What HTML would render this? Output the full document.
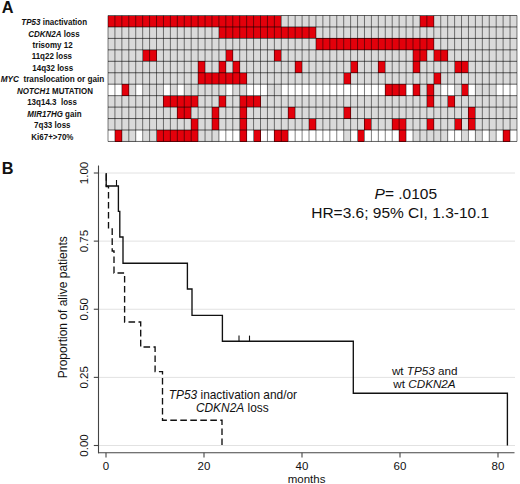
<!DOCTYPE html>
<html><head><meta charset="utf-8"><title>Figure</title><style>
html,body{margin:0;padding:0;background:#fff;}
svg{display:block;}
text{font-family:"Liberation Sans",sans-serif;fill:#111;}
</style></head><body>
<svg width="520" height="484" viewBox="0 0 520 484">
<rect x="0" y="0" width="520" height="484" fill="#fff"/>
<text x="1.7" y="13.3" font-size="16.3" font-weight="bold">A</text>
<text x="1.8" y="174.4" font-size="16.3" font-weight="bold">B</text>
<g shape-rendering="crispEdges">
<rect x="108.00" y="15.50" width="6.982" height="11.500" fill="#e3000b"/><rect x="114.93" y="15.50" width="6.982" height="11.500" fill="#e3000b"/><rect x="121.86" y="15.50" width="6.982" height="11.500" fill="#e3000b"/><rect x="128.80" y="15.50" width="6.982" height="11.500" fill="#e3000b"/><rect x="135.73" y="15.50" width="6.982" height="11.500" fill="#e3000b"/><rect x="142.66" y="15.50" width="6.982" height="11.500" fill="#e3000b"/><rect x="149.59" y="15.50" width="6.982" height="11.500" fill="#e3000b"/><rect x="156.52" y="15.50" width="6.982" height="11.500" fill="#e3000b"/><rect x="163.46" y="15.50" width="6.982" height="11.500" fill="#e3000b"/><rect x="170.39" y="15.50" width="6.982" height="11.500" fill="#e3000b"/><rect x="177.32" y="15.50" width="6.982" height="11.500" fill="#e3000b"/><rect x="184.25" y="15.50" width="6.982" height="11.500" fill="#e3000b"/><rect x="191.18" y="15.50" width="6.982" height="11.500" fill="#e3000b"/><rect x="198.12" y="15.50" width="6.982" height="11.500" fill="#e3000b"/><rect x="205.05" y="15.50" width="6.982" height="11.500" fill="#e3000b"/><rect x="211.98" y="15.50" width="6.982" height="11.500" fill="#e3000b"/><rect x="218.91" y="15.50" width="6.982" height="11.500" fill="#e3000b"/><rect x="225.84" y="15.50" width="6.982" height="11.500" fill="#e3000b"/><rect x="232.78" y="15.50" width="6.982" height="11.500" fill="#e3000b"/><rect x="239.71" y="15.50" width="6.982" height="11.500" fill="#e3000b"/><rect x="246.64" y="15.50" width="6.982" height="11.500" fill="#e3000b"/><rect x="253.57" y="15.50" width="6.982" height="11.500" fill="#e3000b"/><rect x="260.50" y="15.50" width="6.982" height="11.500" fill="#e3000b"/><rect x="267.44" y="15.50" width="6.982" height="11.500" fill="#e3000b"/><rect x="274.37" y="15.50" width="6.982" height="11.500" fill="#e3000b"/><rect x="281.30" y="15.50" width="6.982" height="11.500" fill="#dadada"/><rect x="288.23" y="15.50" width="6.982" height="11.500" fill="#dadada"/><rect x="295.16" y="15.50" width="6.982" height="11.500" fill="#dadada"/><rect x="302.10" y="15.50" width="6.982" height="11.500" fill="#dadada"/><rect x="309.03" y="15.50" width="6.982" height="11.500" fill="#dadada"/><rect x="315.96" y="15.50" width="6.982" height="11.500" fill="#dadada"/><rect x="322.89" y="15.50" width="6.982" height="11.500" fill="#dadada"/><rect x="329.82" y="15.50" width="6.982" height="11.500" fill="#dadada"/><rect x="336.76" y="15.50" width="6.982" height="11.500" fill="#dadada"/><rect x="343.69" y="15.50" width="6.982" height="11.500" fill="#dadada"/><rect x="350.62" y="15.50" width="6.982" height="11.500" fill="#dadada"/><rect x="357.55" y="15.50" width="6.982" height="11.500" fill="#dadada"/><rect x="364.48" y="15.50" width="6.982" height="11.500" fill="#dadada"/><rect x="371.42" y="15.50" width="6.982" height="11.500" fill="#dadada"/><rect x="378.35" y="15.50" width="6.982" height="11.500" fill="#dadada"/><rect x="385.28" y="15.50" width="6.982" height="11.500" fill="#dadada"/><rect x="392.21" y="15.50" width="6.982" height="11.500" fill="#dadada"/><rect x="399.14" y="15.50" width="6.982" height="11.500" fill="#dadada"/><rect x="406.08" y="15.50" width="6.982" height="11.500" fill="#dadada"/><rect x="413.01" y="15.50" width="6.982" height="11.500" fill="#dadada"/><rect x="419.94" y="15.50" width="6.982" height="11.500" fill="#e3000b"/><rect x="426.87" y="15.50" width="6.982" height="11.500" fill="#e3000b"/><rect x="433.80" y="15.50" width="6.982" height="11.500" fill="#dadada"/><rect x="440.74" y="15.50" width="6.982" height="11.500" fill="#dadada"/><rect x="447.67" y="15.50" width="6.982" height="11.500" fill="#dadada"/><rect x="454.60" y="15.50" width="6.982" height="11.500" fill="#dadada"/><rect x="461.53" y="15.50" width="6.982" height="11.500" fill="#dadada"/><rect x="468.46" y="15.50" width="6.982" height="11.500" fill="#dadada"/><rect x="475.40" y="15.50" width="6.982" height="11.500" fill="#dadada"/><rect x="482.33" y="15.50" width="6.982" height="11.500" fill="#dadada"/><rect x="489.26" y="15.50" width="6.982" height="11.500" fill="#dadada"/><rect x="496.19" y="15.50" width="6.982" height="11.500" fill="#dadada"/><rect x="503.12" y="15.50" width="6.982" height="11.500" fill="#dadada"/><rect x="510.06" y="15.50" width="6.982" height="11.500" fill="#dadada"/>
<rect x="108.00" y="26.95" width="6.982" height="11.500" fill="#dadada"/><rect x="114.93" y="26.95" width="6.982" height="11.500" fill="#dadada"/><rect x="121.86" y="26.95" width="6.982" height="11.500" fill="#dadada"/><rect x="128.80" y="26.95" width="6.982" height="11.500" fill="#dadada"/><rect x="135.73" y="26.95" width="6.982" height="11.500" fill="#dadada"/><rect x="142.66" y="26.95" width="6.982" height="11.500" fill="#dadada"/><rect x="149.59" y="26.95" width="6.982" height="11.500" fill="#dadada"/><rect x="156.52" y="26.95" width="6.982" height="11.500" fill="#dadada"/><rect x="163.46" y="26.95" width="6.982" height="11.500" fill="#dadada"/><rect x="170.39" y="26.95" width="6.982" height="11.500" fill="#dadada"/><rect x="177.32" y="26.95" width="6.982" height="11.500" fill="#dadada"/><rect x="184.25" y="26.95" width="6.982" height="11.500" fill="#dadada"/><rect x="191.18" y="26.95" width="6.982" height="11.500" fill="#dadada"/><rect x="198.12" y="26.95" width="6.982" height="11.500" fill="#dadada"/><rect x="205.05" y="26.95" width="6.982" height="11.500" fill="#dadada"/><rect x="211.98" y="26.95" width="6.982" height="11.500" fill="#dadada"/><rect x="218.91" y="26.95" width="6.982" height="11.500" fill="#e3000b"/><rect x="225.84" y="26.95" width="6.982" height="11.500" fill="#e3000b"/><rect x="232.78" y="26.95" width="6.982" height="11.500" fill="#e3000b"/><rect x="239.71" y="26.95" width="6.982" height="11.500" fill="#e3000b"/><rect x="246.64" y="26.95" width="6.982" height="11.500" fill="#e3000b"/><rect x="253.57" y="26.95" width="6.982" height="11.500" fill="#e3000b"/><rect x="260.50" y="26.95" width="6.982" height="11.500" fill="#e3000b"/><rect x="267.44" y="26.95" width="6.982" height="11.500" fill="#e3000b"/><rect x="274.37" y="26.95" width="6.982" height="11.500" fill="#e3000b"/><rect x="281.30" y="26.95" width="6.982" height="11.500" fill="#e3000b"/><rect x="288.23" y="26.95" width="6.982" height="11.500" fill="#e3000b"/><rect x="295.16" y="26.95" width="6.982" height="11.500" fill="#e3000b"/><rect x="302.10" y="26.95" width="6.982" height="11.500" fill="#e3000b"/><rect x="309.03" y="26.95" width="6.982" height="11.500" fill="#e3000b"/><rect x="315.96" y="26.95" width="6.982" height="11.500" fill="#dadada"/><rect x="322.89" y="26.95" width="6.982" height="11.500" fill="#dadada"/><rect x="329.82" y="26.95" width="6.982" height="11.500" fill="#dadada"/><rect x="336.76" y="26.95" width="6.982" height="11.500" fill="#dadada"/><rect x="343.69" y="26.95" width="6.982" height="11.500" fill="#dadada"/><rect x="350.62" y="26.95" width="6.982" height="11.500" fill="#dadada"/><rect x="357.55" y="26.95" width="6.982" height="11.500" fill="#dadada"/><rect x="364.48" y="26.95" width="6.982" height="11.500" fill="#dadada"/><rect x="371.42" y="26.95" width="6.982" height="11.500" fill="#dadada"/><rect x="378.35" y="26.95" width="6.982" height="11.500" fill="#dadada"/><rect x="385.28" y="26.95" width="6.982" height="11.500" fill="#dadada"/><rect x="392.21" y="26.95" width="6.982" height="11.500" fill="#dadada"/><rect x="399.14" y="26.95" width="6.982" height="11.500" fill="#dadada"/><rect x="406.08" y="26.95" width="6.982" height="11.500" fill="#dadada"/><rect x="413.01" y="26.95" width="6.982" height="11.500" fill="#dadada"/><rect x="419.94" y="26.95" width="6.982" height="11.500" fill="#dadada"/><rect x="426.87" y="26.95" width="6.982" height="11.500" fill="#dadada"/><rect x="433.80" y="26.95" width="6.982" height="11.500" fill="#dadada"/><rect x="440.74" y="26.95" width="6.982" height="11.500" fill="#dadada"/><rect x="447.67" y="26.95" width="6.982" height="11.500" fill="#dadada"/><rect x="454.60" y="26.95" width="6.982" height="11.500" fill="#dadada"/><rect x="461.53" y="26.95" width="6.982" height="11.500" fill="#dadada"/><rect x="468.46" y="26.95" width="6.982" height="11.500" fill="#dadada"/><rect x="475.40" y="26.95" width="6.982" height="11.500" fill="#dadada"/><rect x="482.33" y="26.95" width="6.982" height="11.500" fill="#dadada"/><rect x="489.26" y="26.95" width="6.982" height="11.500" fill="#dadada"/><rect x="496.19" y="26.95" width="6.982" height="11.500" fill="#dadada"/><rect x="503.12" y="26.95" width="6.982" height="11.500" fill="#dadada"/><rect x="510.06" y="26.95" width="6.982" height="11.500" fill="#dadada"/>
<rect x="108.00" y="38.40" width="6.982" height="11.500" fill="#dadada"/><rect x="114.93" y="38.40" width="6.982" height="11.500" fill="#dadada"/><rect x="121.86" y="38.40" width="6.982" height="11.500" fill="#dadada"/><rect x="128.80" y="38.40" width="6.982" height="11.500" fill="#dadada"/><rect x="135.73" y="38.40" width="6.982" height="11.500" fill="#dadada"/><rect x="142.66" y="38.40" width="6.982" height="11.500" fill="#dadada"/><rect x="149.59" y="38.40" width="6.982" height="11.500" fill="#dadada"/><rect x="156.52" y="38.40" width="6.982" height="11.500" fill="#dadada"/><rect x="163.46" y="38.40" width="6.982" height="11.500" fill="#dadada"/><rect x="170.39" y="38.40" width="6.982" height="11.500" fill="#dadada"/><rect x="177.32" y="38.40" width="6.982" height="11.500" fill="#dadada"/><rect x="184.25" y="38.40" width="6.982" height="11.500" fill="#dadada"/><rect x="191.18" y="38.40" width="6.982" height="11.500" fill="#dadada"/><rect x="198.12" y="38.40" width="6.982" height="11.500" fill="#dadada"/><rect x="205.05" y="38.40" width="6.982" height="11.500" fill="#dadada"/><rect x="211.98" y="38.40" width="6.982" height="11.500" fill="#dadada"/><rect x="218.91" y="38.40" width="6.982" height="11.500" fill="#dadada"/><rect x="225.84" y="38.40" width="6.982" height="11.500" fill="#dadada"/><rect x="232.78" y="38.40" width="6.982" height="11.500" fill="#dadada"/><rect x="239.71" y="38.40" width="6.982" height="11.500" fill="#dadada"/><rect x="246.64" y="38.40" width="6.982" height="11.500" fill="#dadada"/><rect x="253.57" y="38.40" width="6.982" height="11.500" fill="#dadada"/><rect x="260.50" y="38.40" width="6.982" height="11.500" fill="#dadada"/><rect x="267.44" y="38.40" width="6.982" height="11.500" fill="#dadada"/><rect x="274.37" y="38.40" width="6.982" height="11.500" fill="#dadada"/><rect x="281.30" y="38.40" width="6.982" height="11.500" fill="#dadada"/><rect x="288.23" y="38.40" width="6.982" height="11.500" fill="#dadada"/><rect x="295.16" y="38.40" width="6.982" height="11.500" fill="#dadada"/><rect x="302.10" y="38.40" width="6.982" height="11.500" fill="#dadada"/><rect x="309.03" y="38.40" width="6.982" height="11.500" fill="#dadada"/><rect x="315.96" y="38.40" width="6.982" height="11.500" fill="#e3000b"/><rect x="322.89" y="38.40" width="6.982" height="11.500" fill="#e3000b"/><rect x="329.82" y="38.40" width="6.982" height="11.500" fill="#e3000b"/><rect x="336.76" y="38.40" width="6.982" height="11.500" fill="#e3000b"/><rect x="343.69" y="38.40" width="6.982" height="11.500" fill="#e3000b"/><rect x="350.62" y="38.40" width="6.982" height="11.500" fill="#e3000b"/><rect x="357.55" y="38.40" width="6.982" height="11.500" fill="#e3000b"/><rect x="364.48" y="38.40" width="6.982" height="11.500" fill="#e3000b"/><rect x="371.42" y="38.40" width="6.982" height="11.500" fill="#e3000b"/><rect x="378.35" y="38.40" width="6.982" height="11.500" fill="#e3000b"/><rect x="385.28" y="38.40" width="6.982" height="11.500" fill="#e3000b"/><rect x="392.21" y="38.40" width="6.982" height="11.500" fill="#e3000b"/><rect x="399.14" y="38.40" width="6.982" height="11.500" fill="#e3000b"/><rect x="406.08" y="38.40" width="6.982" height="11.500" fill="#e3000b"/><rect x="413.01" y="38.40" width="6.982" height="11.500" fill="#e3000b"/><rect x="419.94" y="38.40" width="6.982" height="11.500" fill="#e3000b"/><rect x="426.87" y="38.40" width="6.982" height="11.500" fill="#e3000b"/><rect x="433.80" y="38.40" width="6.982" height="11.500" fill="#dadada"/><rect x="440.74" y="38.40" width="6.982" height="11.500" fill="#dadada"/><rect x="447.67" y="38.40" width="6.982" height="11.500" fill="#dadada"/><rect x="454.60" y="38.40" width="6.982" height="11.500" fill="#dadada"/><rect x="461.53" y="38.40" width="6.982" height="11.500" fill="#dadada"/><rect x="468.46" y="38.40" width="6.982" height="11.500" fill="#dadada"/><rect x="475.40" y="38.40" width="6.982" height="11.500" fill="#dadada"/><rect x="482.33" y="38.40" width="6.982" height="11.500" fill="#dadada"/><rect x="489.26" y="38.40" width="6.982" height="11.500" fill="#dadada"/><rect x="496.19" y="38.40" width="6.982" height="11.500" fill="#dadada"/><rect x="503.12" y="38.40" width="6.982" height="11.500" fill="#dadada"/><rect x="510.06" y="38.40" width="6.982" height="11.500" fill="#dadada"/>
<rect x="108.00" y="49.85" width="6.982" height="11.500" fill="#dadada"/><rect x="114.93" y="49.85" width="6.982" height="11.500" fill="#dadada"/><rect x="121.86" y="49.85" width="6.982" height="11.500" fill="#dadada"/><rect x="128.80" y="49.85" width="6.982" height="11.500" fill="#dadada"/><rect x="135.73" y="49.85" width="6.982" height="11.500" fill="#dadada"/><rect x="142.66" y="49.85" width="6.982" height="11.500" fill="#e3000b"/><rect x="149.59" y="49.85" width="6.982" height="11.500" fill="#e3000b"/><rect x="156.52" y="49.85" width="6.982" height="11.500" fill="#dadada"/><rect x="163.46" y="49.85" width="6.982" height="11.500" fill="#dadada"/><rect x="170.39" y="49.85" width="6.982" height="11.500" fill="#dadada"/><rect x="177.32" y="49.85" width="6.982" height="11.500" fill="#dadada"/><rect x="184.25" y="49.85" width="6.982" height="11.500" fill="#dadada"/><rect x="191.18" y="49.85" width="6.982" height="11.500" fill="#dadada"/><rect x="198.12" y="49.85" width="6.982" height="11.500" fill="#dadada"/><rect x="205.05" y="49.85" width="6.982" height="11.500" fill="#dadada"/><rect x="211.98" y="49.85" width="6.982" height="11.500" fill="#dadada"/><rect x="218.91" y="49.85" width="6.982" height="11.500" fill="#dadada"/><rect x="225.84" y="49.85" width="6.982" height="11.500" fill="#e3000b"/><rect x="232.78" y="49.85" width="6.982" height="11.500" fill="#dadada"/><rect x="239.71" y="49.85" width="6.982" height="11.500" fill="#dadada"/><rect x="246.64" y="49.85" width="6.982" height="11.500" fill="#dadada"/><rect x="253.57" y="49.85" width="6.982" height="11.500" fill="#dadada"/><rect x="260.50" y="49.85" width="6.982" height="11.500" fill="#dadada"/><rect x="267.44" y="49.85" width="6.982" height="11.500" fill="#dadada"/><rect x="274.37" y="49.85" width="6.982" height="11.500" fill="#e3000b"/><rect x="281.30" y="49.85" width="6.982" height="11.500" fill="#dadada"/><rect x="288.23" y="49.85" width="6.982" height="11.500" fill="#dadada"/><rect x="295.16" y="49.85" width="6.982" height="11.500" fill="#dadada"/><rect x="302.10" y="49.85" width="6.982" height="11.500" fill="#dadada"/><rect x="309.03" y="49.85" width="6.982" height="11.500" fill="#dadada"/><rect x="315.96" y="49.85" width="6.982" height="11.500" fill="#dadada"/><rect x="322.89" y="49.85" width="6.982" height="11.500" fill="#dadada"/><rect x="329.82" y="49.85" width="6.982" height="11.500" fill="#dadada"/><rect x="336.76" y="49.85" width="6.982" height="11.500" fill="#dadada"/><rect x="343.69" y="49.85" width="6.982" height="11.500" fill="#dadada"/><rect x="350.62" y="49.85" width="6.982" height="11.500" fill="#dadada"/><rect x="357.55" y="49.85" width="6.982" height="11.500" fill="#dadada"/><rect x="364.48" y="49.85" width="6.982" height="11.500" fill="#dadada"/><rect x="371.42" y="49.85" width="6.982" height="11.500" fill="#dadada"/><rect x="378.35" y="49.85" width="6.982" height="11.500" fill="#dadada"/><rect x="385.28" y="49.85" width="6.982" height="11.500" fill="#dadada"/><rect x="392.21" y="49.85" width="6.982" height="11.500" fill="#dadada"/><rect x="399.14" y="49.85" width="6.982" height="11.500" fill="#dadada"/><rect x="406.08" y="49.85" width="6.982" height="11.500" fill="#dadada"/><rect x="413.01" y="49.85" width="6.982" height="11.500" fill="#e3000b"/><rect x="419.94" y="49.85" width="6.982" height="11.500" fill="#e3000b"/><rect x="426.87" y="49.85" width="6.982" height="11.500" fill="#dadada"/><rect x="433.80" y="49.85" width="6.982" height="11.500" fill="#e3000b"/><rect x="440.74" y="49.85" width="6.982" height="11.500" fill="#e3000b"/><rect x="447.67" y="49.85" width="6.982" height="11.500" fill="#dadada"/><rect x="454.60" y="49.85" width="6.982" height="11.500" fill="#dadada"/><rect x="461.53" y="49.85" width="6.982" height="11.500" fill="#dadada"/><rect x="468.46" y="49.85" width="6.982" height="11.500" fill="#dadada"/><rect x="475.40" y="49.85" width="6.982" height="11.500" fill="#dadada"/><rect x="482.33" y="49.85" width="6.982" height="11.500" fill="#dadada"/><rect x="489.26" y="49.85" width="6.982" height="11.500" fill="#dadada"/><rect x="496.19" y="49.85" width="6.982" height="11.500" fill="#dadada"/><rect x="503.12" y="49.85" width="6.982" height="11.500" fill="#dadada"/><rect x="510.06" y="49.85" width="6.982" height="11.500" fill="#dadada"/>
<rect x="108.00" y="61.30" width="6.982" height="11.500" fill="#dadada"/><rect x="114.93" y="61.30" width="6.982" height="11.500" fill="#dadada"/><rect x="121.86" y="61.30" width="6.982" height="11.500" fill="#dadada"/><rect x="128.80" y="61.30" width="6.982" height="11.500" fill="#dadada"/><rect x="135.73" y="61.30" width="6.982" height="11.500" fill="#dadada"/><rect x="142.66" y="61.30" width="6.982" height="11.500" fill="#dadada"/><rect x="149.59" y="61.30" width="6.982" height="11.500" fill="#dadada"/><rect x="156.52" y="61.30" width="6.982" height="11.500" fill="#dadada"/><rect x="163.46" y="61.30" width="6.982" height="11.500" fill="#dadada"/><rect x="170.39" y="61.30" width="6.982" height="11.500" fill="#dadada"/><rect x="177.32" y="61.30" width="6.982" height="11.500" fill="#dadada"/><rect x="184.25" y="61.30" width="6.982" height="11.500" fill="#dadada"/><rect x="191.18" y="61.30" width="6.982" height="11.500" fill="#dadada"/><rect x="198.12" y="61.30" width="6.982" height="11.500" fill="#e3000b"/><rect x="205.05" y="61.30" width="6.982" height="11.500" fill="#dadada"/><rect x="211.98" y="61.30" width="6.982" height="11.500" fill="#dadada"/><rect x="218.91" y="61.30" width="6.982" height="11.500" fill="#e3000b"/><rect x="225.84" y="61.30" width="6.982" height="11.500" fill="#dadada"/><rect x="232.78" y="61.30" width="6.982" height="11.500" fill="#e3000b"/><rect x="239.71" y="61.30" width="6.982" height="11.500" fill="#dadada"/><rect x="246.64" y="61.30" width="6.982" height="11.500" fill="#dadada"/><rect x="253.57" y="61.30" width="6.982" height="11.500" fill="#dadada"/><rect x="260.50" y="61.30" width="6.982" height="11.500" fill="#dadada"/><rect x="267.44" y="61.30" width="6.982" height="11.500" fill="#dadada"/><rect x="274.37" y="61.30" width="6.982" height="11.500" fill="#dadada"/><rect x="281.30" y="61.30" width="6.982" height="11.500" fill="#dadada"/><rect x="288.23" y="61.30" width="6.982" height="11.500" fill="#dadada"/><rect x="295.16" y="61.30" width="6.982" height="11.500" fill="#e3000b"/><rect x="302.10" y="61.30" width="6.982" height="11.500" fill="#dadada"/><rect x="309.03" y="61.30" width="6.982" height="11.500" fill="#dadada"/><rect x="315.96" y="61.30" width="6.982" height="11.500" fill="#dadada"/><rect x="322.89" y="61.30" width="6.982" height="11.500" fill="#dadada"/><rect x="329.82" y="61.30" width="6.982" height="11.500" fill="#dadada"/><rect x="336.76" y="61.30" width="6.982" height="11.500" fill="#dadada"/><rect x="343.69" y="61.30" width="6.982" height="11.500" fill="#dadada"/><rect x="350.62" y="61.30" width="6.982" height="11.500" fill="#e3000b"/><rect x="357.55" y="61.30" width="6.982" height="11.500" fill="#dadada"/><rect x="364.48" y="61.30" width="6.982" height="11.500" fill="#dadada"/><rect x="371.42" y="61.30" width="6.982" height="11.500" fill="#dadada"/><rect x="378.35" y="61.30" width="6.982" height="11.500" fill="#e3000b"/><rect x="385.28" y="61.30" width="6.982" height="11.500" fill="#dadada"/><rect x="392.21" y="61.30" width="6.982" height="11.500" fill="#dadada"/><rect x="399.14" y="61.30" width="6.982" height="11.500" fill="#dadada"/><rect x="406.08" y="61.30" width="6.982" height="11.500" fill="#dadada"/><rect x="413.01" y="61.30" width="6.982" height="11.500" fill="#e3000b"/><rect x="419.94" y="61.30" width="6.982" height="11.500" fill="#dadada"/><rect x="426.87" y="61.30" width="6.982" height="11.500" fill="#dadada"/><rect x="433.80" y="61.30" width="6.982" height="11.500" fill="#dadada"/><rect x="440.74" y="61.30" width="6.982" height="11.500" fill="#dadada"/><rect x="447.67" y="61.30" width="6.982" height="11.500" fill="#dadada"/><rect x="454.60" y="61.30" width="6.982" height="11.500" fill="#e3000b"/><rect x="461.53" y="61.30" width="6.982" height="11.500" fill="#e3000b"/><rect x="468.46" y="61.30" width="6.982" height="11.500" fill="#dadada"/><rect x="475.40" y="61.30" width="6.982" height="11.500" fill="#dadada"/><rect x="482.33" y="61.30" width="6.982" height="11.500" fill="#dadada"/><rect x="489.26" y="61.30" width="6.982" height="11.500" fill="#dadada"/><rect x="496.19" y="61.30" width="6.982" height="11.500" fill="#dadada"/><rect x="503.12" y="61.30" width="6.982" height="11.500" fill="#dadada"/><rect x="510.06" y="61.30" width="6.982" height="11.500" fill="#dadada"/>
<rect x="108.00" y="72.75" width="6.982" height="11.500" fill="#dadada"/><rect x="114.93" y="72.75" width="6.982" height="11.500" fill="#dadada"/><rect x="121.86" y="72.75" width="6.982" height="11.500" fill="#dadada"/><rect x="128.80" y="72.75" width="6.982" height="11.500" fill="#dadada"/><rect x="135.73" y="72.75" width="6.982" height="11.500" fill="#dadada"/><rect x="142.66" y="72.75" width="6.982" height="11.500" fill="#dadada"/><rect x="149.59" y="72.75" width="6.982" height="11.500" fill="#dadada"/><rect x="156.52" y="72.75" width="6.982" height="11.500" fill="#dadada"/><rect x="163.46" y="72.75" width="6.982" height="11.500" fill="#dadada"/><rect x="170.39" y="72.75" width="6.982" height="11.500" fill="#dadada"/><rect x="177.32" y="72.75" width="6.982" height="11.500" fill="#dadada"/><rect x="184.25" y="72.75" width="6.982" height="11.500" fill="#dadada"/><rect x="191.18" y="72.75" width="6.982" height="11.500" fill="#dadada"/><rect x="198.12" y="72.75" width="6.982" height="11.500" fill="#e3000b"/><rect x="205.05" y="72.75" width="6.982" height="11.500" fill="#e3000b"/><rect x="211.98" y="72.75" width="6.982" height="11.500" fill="#e3000b"/><rect x="218.91" y="72.75" width="6.982" height="11.500" fill="#e3000b"/><rect x="225.84" y="72.75" width="6.982" height="11.500" fill="#e3000b"/><rect x="232.78" y="72.75" width="6.982" height="11.500" fill="#e3000b"/><rect x="239.71" y="72.75" width="6.982" height="11.500" fill="#e3000b"/><rect x="246.64" y="72.75" width="6.982" height="11.500" fill="#dadada"/><rect x="253.57" y="72.75" width="6.982" height="11.500" fill="#dadada"/><rect x="260.50" y="72.75" width="6.982" height="11.500" fill="#dadada"/><rect x="267.44" y="72.75" width="6.982" height="11.500" fill="#dadada"/><rect x="274.37" y="72.75" width="6.982" height="11.500" fill="#dadada"/><rect x="281.30" y="72.75" width="6.982" height="11.500" fill="#dadada"/><rect x="288.23" y="72.75" width="6.982" height="11.500" fill="#dadada"/><rect x="295.16" y="72.75" width="6.982" height="11.500" fill="#dadada"/><rect x="302.10" y="72.75" width="6.982" height="11.500" fill="#dadada"/><rect x="309.03" y="72.75" width="6.982" height="11.500" fill="#dadada"/><rect x="315.96" y="72.75" width="6.982" height="11.500" fill="#dadada"/><rect x="322.89" y="72.75" width="6.982" height="11.500" fill="#dadada"/><rect x="329.82" y="72.75" width="6.982" height="11.500" fill="#dadada"/><rect x="336.76" y="72.75" width="6.982" height="11.500" fill="#dadada"/><rect x="343.69" y="72.75" width="6.982" height="11.500" fill="#e3000b"/><rect x="350.62" y="72.75" width="6.982" height="11.500" fill="#dadada"/><rect x="357.55" y="72.75" width="6.982" height="11.500" fill="#dadada"/><rect x="364.48" y="72.75" width="6.982" height="11.500" fill="#dadada"/><rect x="371.42" y="72.75" width="6.982" height="11.500" fill="#dadada"/><rect x="378.35" y="72.75" width="6.982" height="11.500" fill="#dadada"/><rect x="385.28" y="72.75" width="6.982" height="11.500" fill="#dadada"/><rect x="392.21" y="72.75" width="6.982" height="11.500" fill="#dadada"/><rect x="399.14" y="72.75" width="6.982" height="11.500" fill="#dadada"/><rect x="406.08" y="72.75" width="6.982" height="11.500" fill="#dadada"/><rect x="413.01" y="72.75" width="6.982" height="11.500" fill="#dadada"/><rect x="419.94" y="72.75" width="6.982" height="11.500" fill="#dadada"/><rect x="426.87" y="72.75" width="6.982" height="11.500" fill="#dadada"/><rect x="433.80" y="72.75" width="6.982" height="11.500" fill="#e3000b"/><rect x="440.74" y="72.75" width="6.982" height="11.500" fill="#dadada"/><rect x="447.67" y="72.75" width="6.982" height="11.500" fill="#dadada"/><rect x="454.60" y="72.75" width="6.982" height="11.500" fill="#dadada"/><rect x="461.53" y="72.75" width="6.982" height="11.500" fill="#dadada"/><rect x="468.46" y="72.75" width="6.982" height="11.500" fill="#dadada"/><rect x="475.40" y="72.75" width="6.982" height="11.500" fill="#dadada"/><rect x="482.33" y="72.75" width="6.982" height="11.500" fill="#dadada"/><rect x="489.26" y="72.75" width="6.982" height="11.500" fill="#dadada"/><rect x="496.19" y="72.75" width="6.982" height="11.500" fill="#dadada"/><rect x="503.12" y="72.75" width="6.982" height="11.500" fill="#dadada"/><rect x="510.06" y="72.75" width="6.982" height="11.500" fill="#dadada"/>
<rect x="108.00" y="84.20" width="6.982" height="11.500" fill="#ffffff"/><rect x="114.93" y="84.20" width="6.982" height="11.500" fill="#ffffff"/><rect x="121.86" y="84.20" width="6.982" height="11.500" fill="#e3000b"/><rect x="128.80" y="84.20" width="6.982" height="11.500" fill="#dadada"/><rect x="135.73" y="84.20" width="6.982" height="11.500" fill="#ffffff"/><rect x="142.66" y="84.20" width="6.982" height="11.500" fill="#dadada"/><rect x="149.59" y="84.20" width="6.982" height="11.500" fill="#dadada"/><rect x="156.52" y="84.20" width="6.982" height="11.500" fill="#dadada"/><rect x="163.46" y="84.20" width="6.982" height="11.500" fill="#ffffff"/><rect x="170.39" y="84.20" width="6.982" height="11.500" fill="#dadada"/><rect x="177.32" y="84.20" width="6.982" height="11.500" fill="#ffffff"/><rect x="184.25" y="84.20" width="6.982" height="11.500" fill="#dadada"/><rect x="191.18" y="84.20" width="6.982" height="11.500" fill="#dadada"/><rect x="198.12" y="84.20" width="6.982" height="11.500" fill="#dadada"/><rect x="205.05" y="84.20" width="6.982" height="11.500" fill="#dadada"/><rect x="211.98" y="84.20" width="6.982" height="11.500" fill="#dadada"/><rect x="218.91" y="84.20" width="6.982" height="11.500" fill="#dadada"/><rect x="225.84" y="84.20" width="6.982" height="11.500" fill="#ffffff"/><rect x="232.78" y="84.20" width="6.982" height="11.500" fill="#dadada"/><rect x="239.71" y="84.20" width="6.982" height="11.500" fill="#dadada"/><rect x="246.64" y="84.20" width="6.982" height="11.500" fill="#ffffff"/><rect x="253.57" y="84.20" width="6.982" height="11.500" fill="#ffffff"/><rect x="260.50" y="84.20" width="6.982" height="11.500" fill="#ffffff"/><rect x="267.44" y="84.20" width="6.982" height="11.500" fill="#dadada"/><rect x="274.37" y="84.20" width="6.982" height="11.500" fill="#dadada"/><rect x="281.30" y="84.20" width="6.982" height="11.500" fill="#ffffff"/><rect x="288.23" y="84.20" width="6.982" height="11.500" fill="#ffffff"/><rect x="295.16" y="84.20" width="6.982" height="11.500" fill="#ffffff"/><rect x="302.10" y="84.20" width="6.982" height="11.500" fill="#ffffff"/><rect x="309.03" y="84.20" width="6.982" height="11.500" fill="#ffffff"/><rect x="315.96" y="84.20" width="6.982" height="11.500" fill="#ffffff"/><rect x="322.89" y="84.20" width="6.982" height="11.500" fill="#ffffff"/><rect x="329.82" y="84.20" width="6.982" height="11.500" fill="#ffffff"/><rect x="336.76" y="84.20" width="6.982" height="11.500" fill="#ffffff"/><rect x="343.69" y="84.20" width="6.982" height="11.500" fill="#ffffff"/><rect x="350.62" y="84.20" width="6.982" height="11.500" fill="#ffffff"/><rect x="357.55" y="84.20" width="6.982" height="11.500" fill="#ffffff"/><rect x="364.48" y="84.20" width="6.982" height="11.500" fill="#ffffff"/><rect x="371.42" y="84.20" width="6.982" height="11.500" fill="#ffffff"/><rect x="378.35" y="84.20" width="6.982" height="11.500" fill="#ffffff"/><rect x="385.28" y="84.20" width="6.982" height="11.500" fill="#e3000b"/><rect x="392.21" y="84.20" width="6.982" height="11.500" fill="#e3000b"/><rect x="399.14" y="84.20" width="6.982" height="11.500" fill="#e3000b"/><rect x="406.08" y="84.20" width="6.982" height="11.500" fill="#ffffff"/><rect x="413.01" y="84.20" width="6.982" height="11.500" fill="#e3000b"/><rect x="419.94" y="84.20" width="6.982" height="11.500" fill="#dadada"/><rect x="426.87" y="84.20" width="6.982" height="11.500" fill="#e3000b"/><rect x="433.80" y="84.20" width="6.982" height="11.500" fill="#dadada"/><rect x="440.74" y="84.20" width="6.982" height="11.500" fill="#ffffff"/><rect x="447.67" y="84.20" width="6.982" height="11.500" fill="#ffffff"/><rect x="454.60" y="84.20" width="6.982" height="11.500" fill="#dadada"/><rect x="461.53" y="84.20" width="6.982" height="11.500" fill="#e3000b"/><rect x="468.46" y="84.20" width="6.982" height="11.500" fill="#ffffff"/><rect x="475.40" y="84.20" width="6.982" height="11.500" fill="#dadada"/><rect x="482.33" y="84.20" width="6.982" height="11.500" fill="#dadada"/><rect x="489.26" y="84.20" width="6.982" height="11.500" fill="#dadada"/><rect x="496.19" y="84.20" width="6.982" height="11.500" fill="#ffffff"/><rect x="503.12" y="84.20" width="6.982" height="11.500" fill="#ffffff"/><rect x="510.06" y="84.20" width="6.982" height="11.500" fill="#ffffff"/>
<rect x="108.00" y="95.65" width="6.982" height="11.500" fill="#dadada"/><rect x="114.93" y="95.65" width="6.982" height="11.500" fill="#dadada"/><rect x="121.86" y="95.65" width="6.982" height="11.500" fill="#dadada"/><rect x="128.80" y="95.65" width="6.982" height="11.500" fill="#dadada"/><rect x="135.73" y="95.65" width="6.982" height="11.500" fill="#dadada"/><rect x="142.66" y="95.65" width="6.982" height="11.500" fill="#dadada"/><rect x="149.59" y="95.65" width="6.982" height="11.500" fill="#dadada"/><rect x="156.52" y="95.65" width="6.982" height="11.500" fill="#dadada"/><rect x="163.46" y="95.65" width="6.982" height="11.500" fill="#e3000b"/><rect x="170.39" y="95.65" width="6.982" height="11.500" fill="#e3000b"/><rect x="177.32" y="95.65" width="6.982" height="11.500" fill="#e3000b"/><rect x="184.25" y="95.65" width="6.982" height="11.500" fill="#e3000b"/><rect x="191.18" y="95.65" width="6.982" height="11.500" fill="#e3000b"/><rect x="198.12" y="95.65" width="6.982" height="11.500" fill="#dadada"/><rect x="205.05" y="95.65" width="6.982" height="11.500" fill="#dadada"/><rect x="211.98" y="95.65" width="6.982" height="11.500" fill="#dadada"/><rect x="218.91" y="95.65" width="6.982" height="11.500" fill="#e3000b"/><rect x="225.84" y="95.65" width="6.982" height="11.500" fill="#dadada"/><rect x="232.78" y="95.65" width="6.982" height="11.500" fill="#dadada"/><rect x="239.71" y="95.65" width="6.982" height="11.500" fill="#e3000b"/><rect x="246.64" y="95.65" width="6.982" height="11.500" fill="#e3000b"/><rect x="253.57" y="95.65" width="6.982" height="11.500" fill="#e3000b"/><rect x="260.50" y="95.65" width="6.982" height="11.500" fill="#dadada"/><rect x="267.44" y="95.65" width="6.982" height="11.500" fill="#dadada"/><rect x="274.37" y="95.65" width="6.982" height="11.500" fill="#dadada"/><rect x="281.30" y="95.65" width="6.982" height="11.500" fill="#dadada"/><rect x="288.23" y="95.65" width="6.982" height="11.500" fill="#dadada"/><rect x="295.16" y="95.65" width="6.982" height="11.500" fill="#dadada"/><rect x="302.10" y="95.65" width="6.982" height="11.500" fill="#dadada"/><rect x="309.03" y="95.65" width="6.982" height="11.500" fill="#dadada"/><rect x="315.96" y="95.65" width="6.982" height="11.500" fill="#dadada"/><rect x="322.89" y="95.65" width="6.982" height="11.500" fill="#dadada"/><rect x="329.82" y="95.65" width="6.982" height="11.500" fill="#dadada"/><rect x="336.76" y="95.65" width="6.982" height="11.500" fill="#dadada"/><rect x="343.69" y="95.65" width="6.982" height="11.500" fill="#dadada"/><rect x="350.62" y="95.65" width="6.982" height="11.500" fill="#dadada"/><rect x="357.55" y="95.65" width="6.982" height="11.500" fill="#dadada"/><rect x="364.48" y="95.65" width="6.982" height="11.500" fill="#dadada"/><rect x="371.42" y="95.65" width="6.982" height="11.500" fill="#dadada"/><rect x="378.35" y="95.65" width="6.982" height="11.500" fill="#dadada"/><rect x="385.28" y="95.65" width="6.982" height="11.500" fill="#dadada"/><rect x="392.21" y="95.65" width="6.982" height="11.500" fill="#dadada"/><rect x="399.14" y="95.65" width="6.982" height="11.500" fill="#dadada"/><rect x="406.08" y="95.65" width="6.982" height="11.500" fill="#dadada"/><rect x="413.01" y="95.65" width="6.982" height="11.500" fill="#dadada"/><rect x="419.94" y="95.65" width="6.982" height="11.500" fill="#dadada"/><rect x="426.87" y="95.65" width="6.982" height="11.500" fill="#e3000b"/><rect x="433.80" y="95.65" width="6.982" height="11.500" fill="#dadada"/><rect x="440.74" y="95.65" width="6.982" height="11.500" fill="#dadada"/><rect x="447.67" y="95.65" width="6.982" height="11.500" fill="#e3000b"/><rect x="454.60" y="95.65" width="6.982" height="11.500" fill="#dadada"/><rect x="461.53" y="95.65" width="6.982" height="11.500" fill="#dadada"/><rect x="468.46" y="95.65" width="6.982" height="11.500" fill="#dadada"/><rect x="475.40" y="95.65" width="6.982" height="11.500" fill="#dadada"/><rect x="482.33" y="95.65" width="6.982" height="11.500" fill="#dadada"/><rect x="489.26" y="95.65" width="6.982" height="11.500" fill="#dadada"/><rect x="496.19" y="95.65" width="6.982" height="11.500" fill="#dadada"/><rect x="503.12" y="95.65" width="6.982" height="11.500" fill="#dadada"/><rect x="510.06" y="95.65" width="6.982" height="11.500" fill="#dadada"/>
<rect x="108.00" y="107.10" width="6.982" height="11.500" fill="#dadada"/><rect x="114.93" y="107.10" width="6.982" height="11.500" fill="#dadada"/><rect x="121.86" y="107.10" width="6.982" height="11.500" fill="#dadada"/><rect x="128.80" y="107.10" width="6.982" height="11.500" fill="#dadada"/><rect x="135.73" y="107.10" width="6.982" height="11.500" fill="#dadada"/><rect x="142.66" y="107.10" width="6.982" height="11.500" fill="#dadada"/><rect x="149.59" y="107.10" width="6.982" height="11.500" fill="#dadada"/><rect x="156.52" y="107.10" width="6.982" height="11.500" fill="#dadada"/><rect x="163.46" y="107.10" width="6.982" height="11.500" fill="#dadada"/><rect x="170.39" y="107.10" width="6.982" height="11.500" fill="#dadada"/><rect x="177.32" y="107.10" width="6.982" height="11.500" fill="#e3000b"/><rect x="184.25" y="107.10" width="6.982" height="11.500" fill="#e3000b"/><rect x="191.18" y="107.10" width="6.982" height="11.500" fill="#dadada"/><rect x="198.12" y="107.10" width="6.982" height="11.500" fill="#dadada"/><rect x="205.05" y="107.10" width="6.982" height="11.500" fill="#dadada"/><rect x="211.98" y="107.10" width="6.982" height="11.500" fill="#e3000b"/><rect x="218.91" y="107.10" width="6.982" height="11.500" fill="#dadada"/><rect x="225.84" y="107.10" width="6.982" height="11.500" fill="#dadada"/><rect x="232.78" y="107.10" width="6.982" height="11.500" fill="#dadada"/><rect x="239.71" y="107.10" width="6.982" height="11.500" fill="#e3000b"/><rect x="246.64" y="107.10" width="6.982" height="11.500" fill="#dadada"/><rect x="253.57" y="107.10" width="6.982" height="11.500" fill="#dadada"/><rect x="260.50" y="107.10" width="6.982" height="11.500" fill="#dadada"/><rect x="267.44" y="107.10" width="6.982" height="11.500" fill="#dadada"/><rect x="274.37" y="107.10" width="6.982" height="11.500" fill="#dadada"/><rect x="281.30" y="107.10" width="6.982" height="11.500" fill="#dadada"/><rect x="288.23" y="107.10" width="6.982" height="11.500" fill="#e3000b"/><rect x="295.16" y="107.10" width="6.982" height="11.500" fill="#dadada"/><rect x="302.10" y="107.10" width="6.982" height="11.500" fill="#dadada"/><rect x="309.03" y="107.10" width="6.982" height="11.500" fill="#dadada"/><rect x="315.96" y="107.10" width="6.982" height="11.500" fill="#dadada"/><rect x="322.89" y="107.10" width="6.982" height="11.500" fill="#dadada"/><rect x="329.82" y="107.10" width="6.982" height="11.500" fill="#dadada"/><rect x="336.76" y="107.10" width="6.982" height="11.500" fill="#dadada"/><rect x="343.69" y="107.10" width="6.982" height="11.500" fill="#e3000b"/><rect x="350.62" y="107.10" width="6.982" height="11.500" fill="#dadada"/><rect x="357.55" y="107.10" width="6.982" height="11.500" fill="#dadada"/><rect x="364.48" y="107.10" width="6.982" height="11.500" fill="#dadada"/><rect x="371.42" y="107.10" width="6.982" height="11.500" fill="#dadada"/><rect x="378.35" y="107.10" width="6.982" height="11.500" fill="#dadada"/><rect x="385.28" y="107.10" width="6.982" height="11.500" fill="#dadada"/><rect x="392.21" y="107.10" width="6.982" height="11.500" fill="#dadada"/><rect x="399.14" y="107.10" width="6.982" height="11.500" fill="#dadada"/><rect x="406.08" y="107.10" width="6.982" height="11.500" fill="#dadada"/><rect x="413.01" y="107.10" width="6.982" height="11.500" fill="#dadada"/><rect x="419.94" y="107.10" width="6.982" height="11.500" fill="#dadada"/><rect x="426.87" y="107.10" width="6.982" height="11.500" fill="#dadada"/><rect x="433.80" y="107.10" width="6.982" height="11.500" fill="#dadada"/><rect x="440.74" y="107.10" width="6.982" height="11.500" fill="#dadada"/><rect x="447.67" y="107.10" width="6.982" height="11.500" fill="#dadada"/><rect x="454.60" y="107.10" width="6.982" height="11.500" fill="#dadada"/><rect x="461.53" y="107.10" width="6.982" height="11.500" fill="#dadada"/><rect x="468.46" y="107.10" width="6.982" height="11.500" fill="#e3000b"/><rect x="475.40" y="107.10" width="6.982" height="11.500" fill="#dadada"/><rect x="482.33" y="107.10" width="6.982" height="11.500" fill="#dadada"/><rect x="489.26" y="107.10" width="6.982" height="11.500" fill="#dadada"/><rect x="496.19" y="107.10" width="6.982" height="11.500" fill="#dadada"/><rect x="503.12" y="107.10" width="6.982" height="11.500" fill="#dadada"/><rect x="510.06" y="107.10" width="6.982" height="11.500" fill="#dadada"/>
<rect x="108.00" y="118.55" width="6.982" height="11.500" fill="#dadada"/><rect x="114.93" y="118.55" width="6.982" height="11.500" fill="#dadada"/><rect x="121.86" y="118.55" width="6.982" height="11.500" fill="#dadada"/><rect x="128.80" y="118.55" width="6.982" height="11.500" fill="#dadada"/><rect x="135.73" y="118.55" width="6.982" height="11.500" fill="#dadada"/><rect x="142.66" y="118.55" width="6.982" height="11.500" fill="#dadada"/><rect x="149.59" y="118.55" width="6.982" height="11.500" fill="#dadada"/><rect x="156.52" y="118.55" width="6.982" height="11.500" fill="#dadada"/><rect x="163.46" y="118.55" width="6.982" height="11.500" fill="#dadada"/><rect x="170.39" y="118.55" width="6.982" height="11.500" fill="#dadada"/><rect x="177.32" y="118.55" width="6.982" height="11.500" fill="#dadada"/><rect x="184.25" y="118.55" width="6.982" height="11.500" fill="#dadada"/><rect x="191.18" y="118.55" width="6.982" height="11.500" fill="#e3000b"/><rect x="198.12" y="118.55" width="6.982" height="11.500" fill="#dadada"/><rect x="205.05" y="118.55" width="6.982" height="11.500" fill="#dadada"/><rect x="211.98" y="118.55" width="6.982" height="11.500" fill="#e3000b"/><rect x="218.91" y="118.55" width="6.982" height="11.500" fill="#dadada"/><rect x="225.84" y="118.55" width="6.982" height="11.500" fill="#dadada"/><rect x="232.78" y="118.55" width="6.982" height="11.500" fill="#dadada"/><rect x="239.71" y="118.55" width="6.982" height="11.500" fill="#e3000b"/><rect x="246.64" y="118.55" width="6.982" height="11.500" fill="#dadada"/><rect x="253.57" y="118.55" width="6.982" height="11.500" fill="#dadada"/><rect x="260.50" y="118.55" width="6.982" height="11.500" fill="#dadada"/><rect x="267.44" y="118.55" width="6.982" height="11.500" fill="#dadada"/><rect x="274.37" y="118.55" width="6.982" height="11.500" fill="#dadada"/><rect x="281.30" y="118.55" width="6.982" height="11.500" fill="#dadada"/><rect x="288.23" y="118.55" width="6.982" height="11.500" fill="#dadada"/><rect x="295.16" y="118.55" width="6.982" height="11.500" fill="#dadada"/><rect x="302.10" y="118.55" width="6.982" height="11.500" fill="#dadada"/><rect x="309.03" y="118.55" width="6.982" height="11.500" fill="#e3000b"/><rect x="315.96" y="118.55" width="6.982" height="11.500" fill="#dadada"/><rect x="322.89" y="118.55" width="6.982" height="11.500" fill="#dadada"/><rect x="329.82" y="118.55" width="6.982" height="11.500" fill="#dadada"/><rect x="336.76" y="118.55" width="6.982" height="11.500" fill="#dadada"/><rect x="343.69" y="118.55" width="6.982" height="11.500" fill="#dadada"/><rect x="350.62" y="118.55" width="6.982" height="11.500" fill="#dadada"/><rect x="357.55" y="118.55" width="6.982" height="11.500" fill="#dadada"/><rect x="364.48" y="118.55" width="6.982" height="11.500" fill="#e3000b"/><rect x="371.42" y="118.55" width="6.982" height="11.500" fill="#dadada"/><rect x="378.35" y="118.55" width="6.982" height="11.500" fill="#dadada"/><rect x="385.28" y="118.55" width="6.982" height="11.500" fill="#dadada"/><rect x="392.21" y="118.55" width="6.982" height="11.500" fill="#e3000b"/><rect x="399.14" y="118.55" width="6.982" height="11.500" fill="#e3000b"/><rect x="406.08" y="118.55" width="6.982" height="11.500" fill="#dadada"/><rect x="413.01" y="118.55" width="6.982" height="11.500" fill="#dadada"/><rect x="419.94" y="118.55" width="6.982" height="11.500" fill="#dadada"/><rect x="426.87" y="118.55" width="6.982" height="11.500" fill="#e3000b"/><rect x="433.80" y="118.55" width="6.982" height="11.500" fill="#dadada"/><rect x="440.74" y="118.55" width="6.982" height="11.500" fill="#dadada"/><rect x="447.67" y="118.55" width="6.982" height="11.500" fill="#dadada"/><rect x="454.60" y="118.55" width="6.982" height="11.500" fill="#e3000b"/><rect x="461.53" y="118.55" width="6.982" height="11.500" fill="#dadada"/><rect x="468.46" y="118.55" width="6.982" height="11.500" fill="#e3000b"/><rect x="475.40" y="118.55" width="6.982" height="11.500" fill="#dadada"/><rect x="482.33" y="118.55" width="6.982" height="11.500" fill="#dadada"/><rect x="489.26" y="118.55" width="6.982" height="11.500" fill="#dadada"/><rect x="496.19" y="118.55" width="6.982" height="11.500" fill="#dadada"/><rect x="503.12" y="118.55" width="6.982" height="11.500" fill="#dadada"/><rect x="510.06" y="118.55" width="6.982" height="11.500" fill="#dadada"/>
<rect x="108.00" y="130.00" width="6.982" height="11.500" fill="#ffffff"/><rect x="114.93" y="130.00" width="6.982" height="11.500" fill="#e3000b"/><rect x="121.86" y="130.00" width="6.982" height="11.500" fill="#dadada"/><rect x="128.80" y="130.00" width="6.982" height="11.500" fill="#dadada"/><rect x="135.73" y="130.00" width="6.982" height="11.500" fill="#ffffff"/><rect x="142.66" y="130.00" width="6.982" height="11.500" fill="#dadada"/><rect x="149.59" y="130.00" width="6.982" height="11.500" fill="#dadada"/><rect x="156.52" y="130.00" width="6.982" height="11.500" fill="#e3000b"/><rect x="163.46" y="130.00" width="6.982" height="11.500" fill="#e3000b"/><rect x="170.39" y="130.00" width="6.982" height="11.500" fill="#e3000b"/><rect x="177.32" y="130.00" width="6.982" height="11.500" fill="#e3000b"/><rect x="184.25" y="130.00" width="6.982" height="11.500" fill="#e3000b"/><rect x="191.18" y="130.00" width="6.982" height="11.500" fill="#e3000b"/><rect x="198.12" y="130.00" width="6.982" height="11.500" fill="#dadada"/><rect x="205.05" y="130.00" width="6.982" height="11.500" fill="#dadada"/><rect x="211.98" y="130.00" width="6.982" height="11.500" fill="#dadada"/><rect x="218.91" y="130.00" width="6.982" height="11.500" fill="#ffffff"/><rect x="225.84" y="130.00" width="6.982" height="11.500" fill="#ffffff"/><rect x="232.78" y="130.00" width="6.982" height="11.500" fill="#ffffff"/><rect x="239.71" y="130.00" width="6.982" height="11.500" fill="#e3000b"/><rect x="246.64" y="130.00" width="6.982" height="11.500" fill="#ffffff"/><rect x="253.57" y="130.00" width="6.982" height="11.500" fill="#e3000b"/><rect x="260.50" y="130.00" width="6.982" height="11.500" fill="#ffffff"/><rect x="267.44" y="130.00" width="6.982" height="11.500" fill="#ffffff"/><rect x="274.37" y="130.00" width="6.982" height="11.500" fill="#e3000b"/><rect x="281.30" y="130.00" width="6.982" height="11.500" fill="#e3000b"/><rect x="288.23" y="130.00" width="6.982" height="11.500" fill="#ffffff"/><rect x="295.16" y="130.00" width="6.982" height="11.500" fill="#ffffff"/><rect x="302.10" y="130.00" width="6.982" height="11.500" fill="#ffffff"/><rect x="309.03" y="130.00" width="6.982" height="11.500" fill="#ffffff"/><rect x="315.96" y="130.00" width="6.982" height="11.500" fill="#ffffff"/><rect x="322.89" y="130.00" width="6.982" height="11.500" fill="#ffffff"/><rect x="329.82" y="130.00" width="6.982" height="11.500" fill="#ffffff"/><rect x="336.76" y="130.00" width="6.982" height="11.500" fill="#ffffff"/><rect x="343.69" y="130.00" width="6.982" height="11.500" fill="#dadada"/><rect x="350.62" y="130.00" width="6.982" height="11.500" fill="#ffffff"/><rect x="357.55" y="130.00" width="6.982" height="11.500" fill="#e3000b"/><rect x="364.48" y="130.00" width="6.982" height="11.500" fill="#ffffff"/><rect x="371.42" y="130.00" width="6.982" height="11.500" fill="#ffffff"/><rect x="378.35" y="130.00" width="6.982" height="11.500" fill="#ffffff"/><rect x="385.28" y="130.00" width="6.982" height="11.500" fill="#ffffff"/><rect x="392.21" y="130.00" width="6.982" height="11.500" fill="#ffffff"/><rect x="399.14" y="130.00" width="6.982" height="11.500" fill="#e3000b"/><rect x="406.08" y="130.00" width="6.982" height="11.500" fill="#ffffff"/><rect x="413.01" y="130.00" width="6.982" height="11.500" fill="#dadada"/><rect x="419.94" y="130.00" width="6.982" height="11.500" fill="#dadada"/><rect x="426.87" y="130.00" width="6.982" height="11.500" fill="#dadada"/><rect x="433.80" y="130.00" width="6.982" height="11.500" fill="#dadada"/><rect x="440.74" y="130.00" width="6.982" height="11.500" fill="#dadada"/><rect x="447.67" y="130.00" width="6.982" height="11.500" fill="#ffffff"/><rect x="454.60" y="130.00" width="6.982" height="11.500" fill="#ffffff"/><rect x="461.53" y="130.00" width="6.982" height="11.500" fill="#dadada"/><rect x="468.46" y="130.00" width="6.982" height="11.500" fill="#ffffff"/><rect x="475.40" y="130.00" width="6.982" height="11.500" fill="#dadada"/><rect x="482.33" y="130.00" width="6.982" height="11.500" fill="#ffffff"/><rect x="489.26" y="130.00" width="6.982" height="11.500" fill="#dadada"/><rect x="496.19" y="130.00" width="6.982" height="11.500" fill="#ffffff"/><rect x="503.12" y="130.00" width="6.982" height="11.500" fill="#e3000b"/><rect x="510.06" y="130.00" width="6.982" height="11.500" fill="#ffffff"/>
</g>
<g stroke="#000" stroke-opacity="0.5" stroke-width="1">
<line x1="108.00" y1="15.50" x2="108.00" y2="141.45"/><line x1="114.93" y1="15.50" x2="114.93" y2="141.45"/><line x1="121.86" y1="15.50" x2="121.86" y2="141.45"/><line x1="128.80" y1="15.50" x2="128.80" y2="141.45"/><line x1="135.73" y1="15.50" x2="135.73" y2="141.45"/><line x1="142.66" y1="15.50" x2="142.66" y2="141.45"/><line x1="149.59" y1="15.50" x2="149.59" y2="141.45"/><line x1="156.52" y1="15.50" x2="156.52" y2="141.45"/><line x1="163.46" y1="15.50" x2="163.46" y2="141.45"/><line x1="170.39" y1="15.50" x2="170.39" y2="141.45"/><line x1="177.32" y1="15.50" x2="177.32" y2="141.45"/><line x1="184.25" y1="15.50" x2="184.25" y2="141.45"/><line x1="191.18" y1="15.50" x2="191.18" y2="141.45"/><line x1="198.12" y1="15.50" x2="198.12" y2="141.45"/><line x1="205.05" y1="15.50" x2="205.05" y2="141.45"/><line x1="211.98" y1="15.50" x2="211.98" y2="141.45"/><line x1="218.91" y1="15.50" x2="218.91" y2="141.45"/><line x1="225.84" y1="15.50" x2="225.84" y2="141.45"/><line x1="232.78" y1="15.50" x2="232.78" y2="141.45"/><line x1="239.71" y1="15.50" x2="239.71" y2="141.45"/><line x1="246.64" y1="15.50" x2="246.64" y2="141.45"/><line x1="253.57" y1="15.50" x2="253.57" y2="141.45"/><line x1="260.50" y1="15.50" x2="260.50" y2="141.45"/><line x1="267.44" y1="15.50" x2="267.44" y2="141.45"/><line x1="274.37" y1="15.50" x2="274.37" y2="141.45"/><line x1="281.30" y1="15.50" x2="281.30" y2="141.45"/><line x1="288.23" y1="15.50" x2="288.23" y2="141.45"/><line x1="295.16" y1="15.50" x2="295.16" y2="141.45"/><line x1="302.10" y1="15.50" x2="302.10" y2="141.45"/><line x1="309.03" y1="15.50" x2="309.03" y2="141.45"/><line x1="315.96" y1="15.50" x2="315.96" y2="141.45"/><line x1="322.89" y1="15.50" x2="322.89" y2="141.45"/><line x1="329.82" y1="15.50" x2="329.82" y2="141.45"/><line x1="336.76" y1="15.50" x2="336.76" y2="141.45"/><line x1="343.69" y1="15.50" x2="343.69" y2="141.45"/><line x1="350.62" y1="15.50" x2="350.62" y2="141.45"/><line x1="357.55" y1="15.50" x2="357.55" y2="141.45"/><line x1="364.48" y1="15.50" x2="364.48" y2="141.45"/><line x1="371.42" y1="15.50" x2="371.42" y2="141.45"/><line x1="378.35" y1="15.50" x2="378.35" y2="141.45"/><line x1="385.28" y1="15.50" x2="385.28" y2="141.45"/><line x1="392.21" y1="15.50" x2="392.21" y2="141.45"/><line x1="399.14" y1="15.50" x2="399.14" y2="141.45"/><line x1="406.08" y1="15.50" x2="406.08" y2="141.45"/><line x1="413.01" y1="15.50" x2="413.01" y2="141.45"/><line x1="419.94" y1="15.50" x2="419.94" y2="141.45"/><line x1="426.87" y1="15.50" x2="426.87" y2="141.45"/><line x1="433.80" y1="15.50" x2="433.80" y2="141.45"/><line x1="440.74" y1="15.50" x2="440.74" y2="141.45"/><line x1="447.67" y1="15.50" x2="447.67" y2="141.45"/><line x1="454.60" y1="15.50" x2="454.60" y2="141.45"/><line x1="461.53" y1="15.50" x2="461.53" y2="141.45"/><line x1="468.46" y1="15.50" x2="468.46" y2="141.45"/><line x1="475.40" y1="15.50" x2="475.40" y2="141.45"/><line x1="482.33" y1="15.50" x2="482.33" y2="141.45"/><line x1="489.26" y1="15.50" x2="489.26" y2="141.45"/><line x1="496.19" y1="15.50" x2="496.19" y2="141.45"/><line x1="503.12" y1="15.50" x2="503.12" y2="141.45"/><line x1="510.06" y1="15.50" x2="510.06" y2="141.45"/><line x1="516.99" y1="15.50" x2="516.99" y2="141.45"/>
</g>
<g stroke="#000" stroke-opacity="0.62" stroke-width="1">
<line x1="108.00" y1="15.50" x2="516.99" y2="15.50"/><line x1="108.00" y1="26.95" x2="516.99" y2="26.95"/><line x1="108.00" y1="38.40" x2="516.99" y2="38.40"/><line x1="108.00" y1="49.85" x2="516.99" y2="49.85"/><line x1="108.00" y1="61.30" x2="516.99" y2="61.30"/><line x1="108.00" y1="72.75" x2="516.99" y2="72.75"/><line x1="108.00" y1="84.20" x2="516.99" y2="84.20"/><line x1="108.00" y1="95.65" x2="516.99" y2="95.65"/><line x1="108.00" y1="107.10" x2="516.99" y2="107.10"/><line x1="108.00" y1="118.55" x2="516.99" y2="118.55"/><line x1="108.00" y1="130.00" x2="516.99" y2="130.00"/><line x1="108.00" y1="141.45" x2="516.99" y2="141.45"/>
</g>
<g font-size="8.6" font-weight="bold" text-anchor="middle">
<text transform="translate(54.20,25.10) scale(0.93,1)" xml:space="preserve"><tspan font-style="italic">TP53</tspan> inactivation</text>
<text transform="translate(54.00,36.55) scale(0.93,1)" xml:space="preserve"><tspan font-style="italic">CDKN2A</tspan> loss</text>
<text transform="translate(52.60,48.00) scale(0.93,1)" xml:space="preserve">trisomy 12</text>
<text transform="translate(51.85,59.45) scale(0.93,1)" xml:space="preserve">11q22 loss</text>
<text transform="translate(52.70,70.90) scale(0.93,1)" xml:space="preserve">14q32 loss</text>
<text transform="translate(52.50,82.35) scale(0.952,1)" xml:space="preserve"><tspan font-style="italic">MYC</tspan>  translocation or gain</text>
<text transform="translate(55.00,93.80) scale(0.93,1)" xml:space="preserve"><tspan font-style="italic">NOTCH1</tspan> MUTATION</text>
<text transform="translate(52.05,105.25) scale(0.93,1)" xml:space="preserve">13q14.3  loss</text>
<text transform="translate(54.45,116.70) scale(0.93,1)" xml:space="preserve"><tspan font-style="italic">MIR17HG</tspan> gain</text>
<text transform="translate(52.30,128.15) scale(0.93,1)" xml:space="preserve">7q33 loss</text>
<text transform="translate(52.35,139.60) scale(0.93,1)" xml:space="preserve">Ki67+&gt;70%</text>
</g>
<g stroke="#e2e2e2" stroke-width="1">
<line x1="99" y1="445.50" x2="515" y2="445.50"/><line x1="99" y1="377.38" x2="515" y2="377.38"/><line x1="99" y1="309.25" x2="515" y2="309.25"/><line x1="99" y1="241.12" x2="515" y2="241.12"/><line x1="99" y1="173.00" x2="515" y2="173.00"/>
</g>
<g stroke="#444" stroke-width="1.1">
<line x1="98.5" y1="165.5" x2="98.5" y2="453.2"/>
<line x1="98" y1="452.7" x2="514.5" y2="452.7"/>
<line x1="93.8" y1="445.50" x2="98.5" y2="445.50"/><line x1="93.8" y1="377.38" x2="98.5" y2="377.38"/><line x1="93.8" y1="309.25" x2="98.5" y2="309.25"/><line x1="93.8" y1="241.12" x2="98.5" y2="241.12"/><line x1="93.8" y1="173.00" x2="98.5" y2="173.00"/><line x1="106.00" y1="452.7" x2="106.00" y2="457.6"/><line x1="204.00" y1="452.7" x2="204.00" y2="457.6"/><line x1="302.00" y1="452.7" x2="302.00" y2="457.6"/><line x1="400.00" y1="452.7" x2="400.00" y2="457.6"/><line x1="498.00" y1="452.7" x2="498.00" y2="457.6"/>
</g>
<g font-size="11.5" text-anchor="middle">
<text transform="translate(88.3,445.50) rotate(-90)" x="0" y="0">0.00</text>
<text transform="translate(88.3,377.38) rotate(-90)" x="0" y="0">0.25</text>
<text transform="translate(88.3,309.25) rotate(-90)" x="0" y="0">0.50</text>
<text transform="translate(88.3,241.12) rotate(-90)" x="0" y="0">0.75</text>
<text transform="translate(88.3,173.00) rotate(-90)" x="0" y="0">1.00</text>
<text x="106.00" y="469.6">0</text>
<text x="204.00" y="469.6">20</text>
<text x="302.00" y="469.6">40</text>
<text x="400.00" y="469.6">60</text>
<text x="498.00" y="469.6">80</text>
</g>
<text x="306.6" y="482.6" font-size="11.5" text-anchor="middle">months</text>
<text transform="translate(67.4,307.3) rotate(-90)" font-size="12" text-anchor="middle">Proportion of alive patients</text>
<text x="374.6" y="198.9" font-size="15.5"><tspan font-style="italic">P</tspan>= .0105</text>
<text x="311.2" y="217.5" font-size="15.5">HR=3.6; 95% CI, 1.3-10.1</text>
<g font-size="11.7" text-anchor="middle">
<text x="424.7" y="374.7">wt <tspan font-style="italic">TP53</tspan> and</text>
<text x="424.5" y="387.6">wt <tspan font-style="italic">CDKN2A</tspan></text>
<text x="232.9" y="398.9" font-size="11.9"><tspan font-style="italic">TP53</tspan> inactivation and/or</text>
<text x="232.3" y="412.3" font-size="11.9"><tspan font-style="italic">CDKN2A</tspan> loss</text>
</g>
<path d="M106.2,173 V186 H118.4 V211.3 H119.8 V237 H123 V263.2 H187.4 V289 H192 V315.3 H222.4 V341.2 H353.3 V393.2 H507.4 V445.5" fill="none" stroke="#111" stroke-width="1.35"/>
<path d="M106.3,173 V186.5 H108.5 V229 H112.2 V251 H114 V273 H124.6 V322 H140.7 V347 H155.1 V371.6 H162.5 V420.2 H222 V445.5" fill="none" stroke="#111" stroke-width="1.35" stroke-dasharray="6.6 3.4" stroke-dashoffset="8.8"/>
<g stroke="#111" stroke-width="1.1">
<line x1="116.5" y1="180" x2="116.5" y2="186"/>
<line x1="239" y1="335.6" x2="239" y2="341.2"/>
<line x1="249.5" y1="335.6" x2="249.5" y2="341.2"/>
</g>
</svg>
</body></html>
